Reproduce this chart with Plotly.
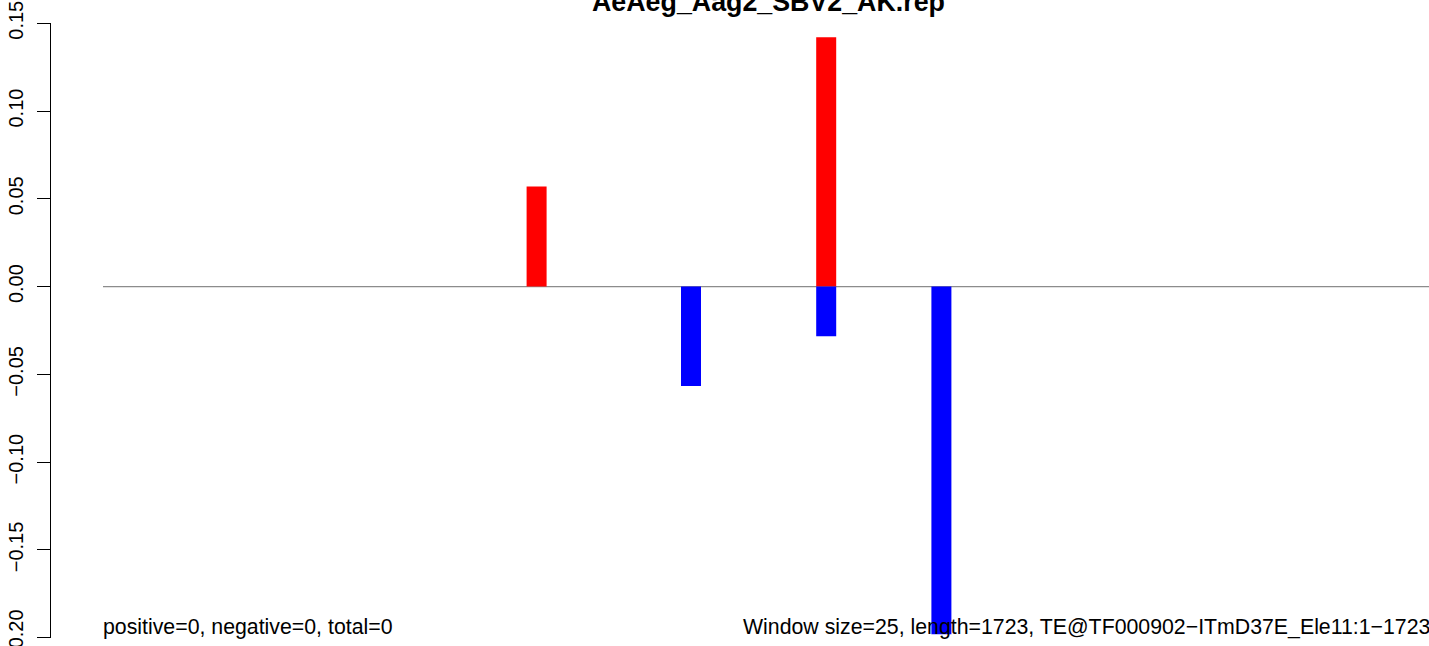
import plotly.graph_objects as go

# data
title = "AeAeg_Aag2_SBV2_AK.rep"
seq_length = 1723
window_size = 25
pos_x = [542, 904]
pos_y = [0.0570, 0.1420]
neg_x = [735, 904, 1048]
neg_y = [-0.0566, -0.0283, -0.1980]
y_ticks = [-0.20, -0.15, -0.10, -0.05, 0.00, 0.05, 0.10, 0.15]
y_ticklabels = ["\u22120.20", "\u22120.15", "\u22120.10", "\u22120.05", "0.00", "0.05", "0.10", "0.15"]
left_text = "positive=0, negative=0, total=0"
right_text = "Window size=25, length=1723, TE@TF000902\u2212ITmD37E_Ele11:1\u22121723"

W, H = 1429, 646
FONT = "Liberation Sans, Arial, Helvetica, sans-serif"

fig = go.Figure()
fig.add_trace(go.Bar(x=pos_x, y=pos_y, width=window_size, marker=dict(color="#FF0000", line=dict(width=0)),
                     showlegend=False, hoverinfo="x+y"))
fig.add_trace(go.Bar(x=neg_x, y=neg_y, width=window_size, marker=dict(color="#0000FF", line=dict(width=0)),
                     showlegend=False, hoverinfo="x+y"))

fig.add_shape(type="line", xref="x", yref="y", x0=0, x1=seq_length, y0=0, y1=0,
              line=dict(color="#8c8c8c", width=1.2), layer="below")

fig.add_annotation(text=f"<b>{title}</b>", xref="paper", yref="paper", x=768 / W, y=1 - 1.5 / H,
                   xanchor="center", yanchor="middle", showarrow=False,
                   font=dict(family=FONT, size=26.8, color="black"))
fig.add_annotation(text=left_text, xref="x", yref="paper", x=0, y=1 - 626.5 / H, xshift=-2,
                   xanchor="left", yanchor="middle", showarrow=False,
                   font=dict(family=FONT, size=21.3, color="black"))
fig.add_annotation(text=right_text, xref="paper", yref="paper", x=743 / W, y=1 - 626.5 / H, xshift=-2,
                   xanchor="left", yanchor="middle", showarrow=False,
                   font=dict(family=FONT, size=21.3, color="black"))

px_per_unit = 0.8
zero_px = 103
fig.update_layout(
    template="none",
    width=W, height=H,
    margin=dict(l=0, r=0, t=0, b=0, pad=0, autoexpand=False),
    paper_bgcolor="white", plot_bgcolor="white",
    barmode="overlay",
    xaxis=dict(visible=False, domain=[0, 1], automargin=False,
               range=[-zero_px / px_per_unit, (W - zero_px) / px_per_unit]),
    yaxis=dict(domain=[1 - 637.9 / H, 1 - 23.1 / H], range=[-0.2001, 0.1501],
               anchor="free", position=50 / W, side="left", automargin=False,
               showline=True, linecolor="black", linewidth=1.3,
               ticks="outside", ticklen=13, tickwidth=1.3, tickcolor="black",
               tickvals=y_ticks, ticktext=y_ticklabels, tickangle=-90,
               tickfont=dict(family=FONT, size=20, color="black"),
               ticklabelstandoff=6, ticklabeloverflow="allow",
               showgrid=False, zeroline=False),
    font=dict(family=FONT),
)

fig.write_html("out.html", post_script="document.body.style.margin='0px';",
               config={"displayModeBar": False})
